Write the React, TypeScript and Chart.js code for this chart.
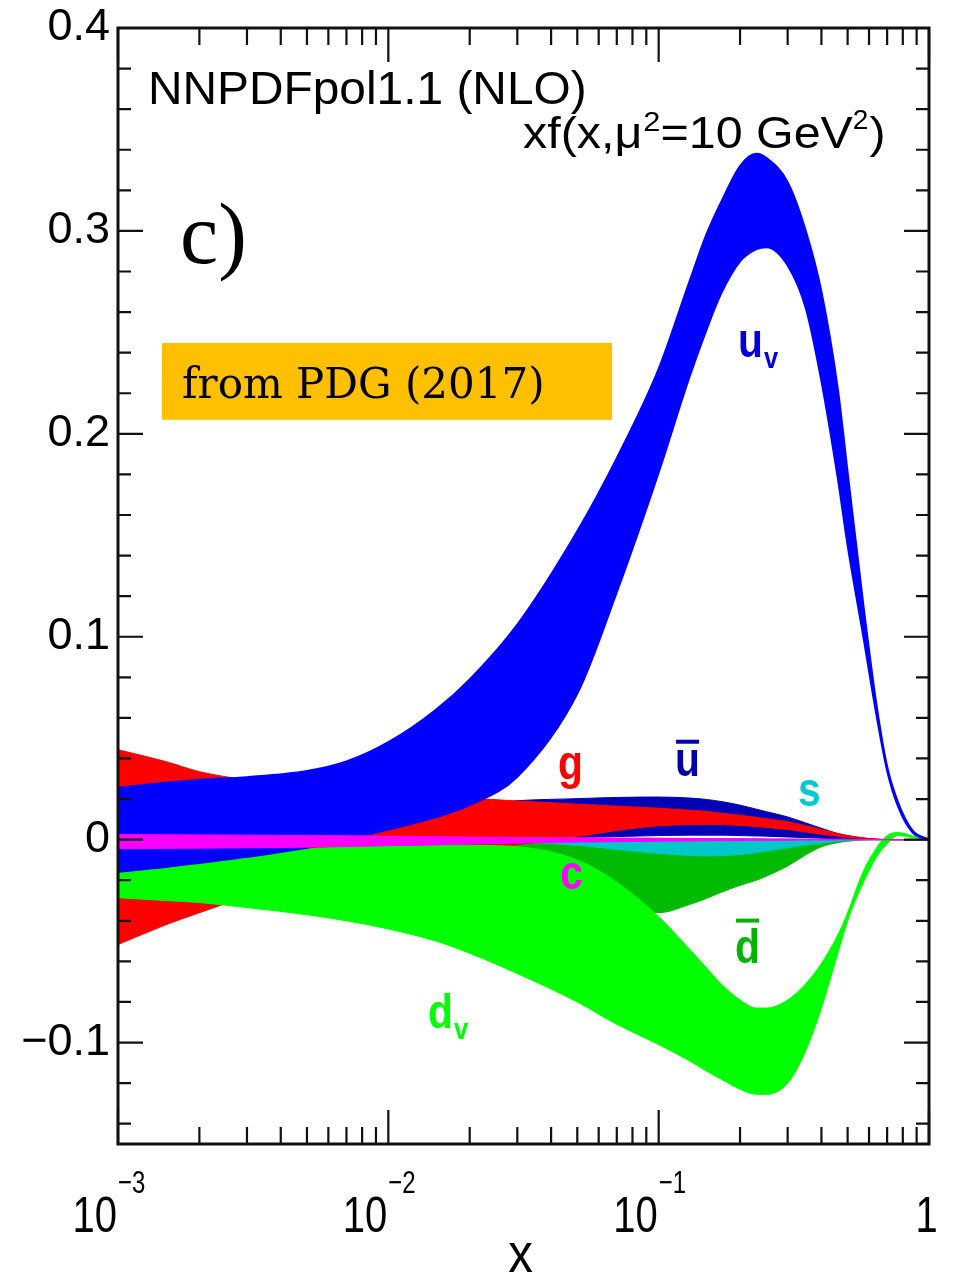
import React, { useEffect, useRef } from "react";
import { Chart, registerables } from "chart.js";

Chart.register(...registerables);

// ---- data (x grid and band edges) ----
const xValues = [
  0.001, 0.0015, 0.002, 0.003, 0.005, 0.007,
  0.01, 0.015, 0.02, 0.03, 0.05, 0.07,
  0.1, 0.13, 0.15, 0.17, 0.2, 0.23, 0.25,
  0.3, 0.35, 0.4, 0.46, 0.5, 0.57, 0.64,
  0.7, 0.77, 0.87, 1.0,
];

const uvUpper = [
  0.0256, 0.028, 0.0295, 0.0308, 0.0338, 0.0385,
  0.048, 0.064, 0.079, 0.106, 0.152, 0.188,
  0.232, 0.275, 0.298, 0.314, 0.332, 0.338, 0.336,
  0.324, 0.3, 0.27, 0.222, 0.181, 0.117, 0.066,
  0.036, 0.018, 0.0044, 0.0,
];
const uvLower = [
  -0.0158, -0.0135, -0.0115, -0.0085, -0.004, 0.0,
  0.005, 0.011, 0.017, 0.031, 0.072, 0.122,
  0.181, 0.228, 0.251, 0.269, 0.285, 0.291, 0.292,
  0.283, 0.262, 0.226, 0.178, 0.145, 0.101, 0.061,
  0.034, 0.016, 0.0035, 0.0,
];

const gUpper = [
  0.0443, 0.0385, 0.0335, 0.0295, 0.027, 0.025,
  0.0235, 0.0215, 0.0205, 0.019, 0.0175, 0.0165,
  0.0155, 0.0145, 0.014, 0.013, 0.012, 0.011, 0.0103,
  0.0088, 0.0068, 0.005, 0.003, 0.002, 0.0009, 0.0003,
  0.0, 0.0, 0.0, 0.0,
];
const gLower = [
  -0.0517, -0.042, -0.036, -0.028, -0.019, -0.014,
  -0.0095, -0.006, -0.0045, -0.0025, 0.0015, 0.0045,
  0.0068, 0.0074, 0.0075, 0.0074, 0.007, 0.0065, 0.006,
  0.005, 0.0038, 0.0027, 0.0017, 0.0012, 0.0005, 0.0002,
  0.0, 0.0, 0.0, 0.0,
];

const ubarUpper = [
  0.004, 0.0045, 0.005, 0.006, 0.008, 0.01,
  0.012, 0.015, 0.017, 0.0192, 0.0202, 0.0208,
  0.021, 0.0205, 0.0198, 0.0188, 0.017, 0.015, 0.0138,
  0.0112, 0.0082, 0.0056, 0.003, 0.002, 0.0008, 0.0002,
  0.0, 0.0, 0.0, 0.0,
];
const ubarLower = [
  -0.004, -0.004, -0.004, -0.0035, -0.003, -0.0025,
  -0.002, -0.0015, -0.001, 0.0, 0.001, 0.0015,
  0.002, 0.0022, 0.0022, 0.0022, 0.002, 0.0018, 0.0017,
  0.0013, 0.001, 0.0007, 0.0004, 0.0003, 0.0001, 0.0,
  0.0, 0.0, 0.0, 0.0,
];

const sUpper = [
  0.001, 0.001, 0.001, 0.001, 0.001, 0.001,
  0.001, 0.001, 0.001, 0.0008, 0.0006, 0.0005,
  0.0005, 0.0005, 0.0004, 0.0004, 0.0004, 0.0003, 0.0003,
  0.0002, 0.0002, 0.0001, 0.0001, 0.0, 0.0, 0.0,
  0.0, 0.0, 0.0, 0.0,
];
const sLower = [
  -0.002, -0.002, -0.002, -0.002, -0.002, -0.002,
  -0.002, -0.0018, -0.0015, -0.0014, -0.0028, -0.0048,
  -0.0068, -0.0078, -0.008, -0.0079, -0.0073, -0.0064, -0.0057,
  -0.004, -0.0027, -0.0017, -0.0008, -0.0004, -0.0001, 0.0,
  0.0, 0.0, 0.0, 0.0,
];

const dbarUpper = [
  0.001, 0.001, 0.001, 0.001, 0.001, 0.001,
  0.001, 0.001, 0.001, 0.0008, 0.0006, 0.0005,
  0.0005, 0.0004, 0.0004, 0.0003, 0.0003, 0.0002, 0.0002,
  0.0001, 0.0001, 0.0, 0.0, 0.0, 0.0, 0.0,
  0.0, 0.0, 0.0, 0.0,
];
const dbarLower = [
  -0.008, -0.008, -0.0085, -0.009, -0.01, -0.011,
  -0.012, -0.014, -0.016, -0.02, -0.027, -0.032,
  -0.036, -0.032, -0.029, -0.026, -0.0225, -0.02, -0.018,
  -0.013, -0.0075, -0.0035, -0.0015, -0.0008, -0.0002, 0.0,
  0.0, 0.0, 0.0, 0.0,
];

const dvUpper = [
  -0.01, -0.009, -0.008, -0.0065, -0.0045, -0.0035,
  -0.0028, -0.0027, -0.0028, -0.0035, -0.01, -0.021,
  -0.038, -0.054, -0.063, -0.071, -0.079, -0.083, -0.083,
  -0.079, -0.071, -0.061, -0.047, -0.036, -0.016, -0.004,
  0.002, 0.0035, 0.0018, 0.0,
];
const dvLower = [
  -0.0286, -0.03, -0.031, -0.0335, -0.037, -0.04,
  -0.044, -0.05, -0.056, -0.066, -0.08, -0.091,
  -0.101, -0.109, -0.114, -0.118, -0.123, -0.1255, -0.1255,
  -0.12, -0.104, -0.083, -0.056, -0.04, -0.0215, -0.0085,
  -0.002, 0.002, 0.001, 0.0,
];

const cUpper = [
  0.0025, 0.0024, 0.0023, 0.0022, 0.002, 0.0019,
  0.0017, 0.0015, 0.0013, 0.0011, 0.0009, 0.0008,
  0.0007, 0.0006, 0.0005, 0.0005, 0.0004, 0.0004, 0.0003,
  0.0003, 0.0002, 0.0002, 0.0001, 0.0001, 0.0, 0.0,
  0.0, 0.0, 0.0, 0.0,
];
const cLower = [
  -0.0044, -0.0043, -0.0042, -0.004, -0.0037, -0.0034,
  -0.003, -0.0026, -0.0022, -0.0017, -0.0012, -0.001,
  -0.0008, -0.0007, -0.0006, -0.0005, -0.0005, -0.0004, -0.0004,
  -0.0003, -0.0002, -0.0002, -0.0001, -0.0001, 0.0, 0.0,
  0.0, 0.0, 0.0, 0.0,
];

// ---- ticks ----
const yMajorTicks = [-0.1, 0, 0.1, 0.2, 0.3, 0.4];
const yMinorTicks = [-0.14, -0.12, -0.08, -0.06, -0.04, -0.02, 0.02, 0.04, 0.06, 0.08, 0.12, 0.14, 0.16, 0.18, 0.22, 0.24, 0.26, 0.28, 0.32, 0.34, 0.36, 0.38];
const xMajorTicks = [0.001, 0.01, 0.1, 1];
const xMajorLabels = [["10", "\u22123"], ["10", "\u22122"], ["10", "\u22121"], ["1", ""]];
const xMinorTicks = [
  0.002, 0.003, 0.004, 0.005, 0.006, 0.007, 0.008, 0.009,
  0.02, 0.03, 0.04, 0.05, 0.06, 0.07, 0.08, 0.09,
  0.2, 0.3, 0.4, 0.5, 0.6, 0.7, 0.8, 0.9,
];

// ---- bands, listed top-most first ----
const bands = [
  { name: "c", upper: cUpper, lower: cLower, color: "#ff00ff", bw: 1 },
  { name: "u_v", upper: uvUpper, lower: uvLower, color: "#0000ff", bw: 2 },
  { name: "d_v", upper: dvUpper, lower: dvLower, color: "#00ff00", bw: 1 },
  { name: "g", upper: gUpper, lower: gLower, color: "#ff0000", bw: 1 },
  { name: "ubar", upper: ubarUpper, lower: ubarLower, color: "#0000b4", bw: 1 },
  { name: "s", upper: sUpper, lower: sLower, color: "#00c8c8", bw: 1 },
  { name: "dbar", upper: dbarUpper, lower: dbarLower, color: "#00bb00", bw: 1 },
];

// ---- in-plot labels (data coordinates) ----
const curveLabels = [
  { text: "u", sub: "v", bar: false, x: 0.1966, y: 0.2379, color: "#0000dd" },
  { text: "g", sub: "", bar: false, x: 0.0424, y: 0.030, color: "#ff0000" },
  { text: "u", sub: "", bar: true, x: 0.115, y: 0.0315, color: "#0000aa" },
  { text: "s", sub: "", bar: false, x: 0.328, y: 0.0167, color: "#00c8d0" },
  { text: "c", sub: "", bar: false, x: 0.0432, y: -0.0241, color: "#ff00ff" },
  { text: "d", sub: "", bar: true, x: 0.1917, y: -0.0606, color: "#00b400" },
  { text: "d", sub: "v", bar: false, x: 0.01402, y: -0.0926, color: "#00ff00" },
];

const SANS = '"Liberation Sans", Arial, Helvetica, sans-serif';

function drawText(ctx: CanvasRenderingContext2D, str: string, x: number, y: number, font: string, color: string, sx = 1, align = "left") {
  ctx.save();
  ctx.font = font;
  ctx.fillStyle = color;
  ctx.textBaseline = "alphabetic";
  ctx.textAlign = "left";
  const w = ctx.measureText(str).width * sx;
  const x0 = align === "left" ? x : align === "right" ? x - w : x - w / 2;
  ctx.translate(x0, y);
  ctx.scale(sx, 1);
  ctx.fillText(str, 0, 0);
  ctx.restore();
  return w;
}

const decorPlugin = {
  id: "decor",
  afterDraw(chart: any) {
    const { ctx, chartArea: a, scales } = chart;
    const xs = scales.x;
    const ys = scales.y;
    ctx.save();

    // inward ticks on all four sides
    ctx.strokeStyle = "#111";
    ctx.lineWidth = 2.2;
    ctx.beginPath();
    const yTick = (v: number, len: number) => {
      const p = ys.getPixelForValue(v);
      ctx.moveTo(a.left, p); ctx.lineTo(a.left + len, p);
      ctx.moveTo(a.right, p); ctx.lineTo(a.right - len, p);
    };
    const xTick = (v: number, len: number) => {
      const p = xs.getPixelForValue(v);
      ctx.moveTo(p, a.bottom); ctx.lineTo(p, a.bottom - len);
      ctx.moveTo(p, a.top); ctx.lineTo(p, a.top + len);
    };
    yMajorTicks.forEach((v) => yTick(v, 25));
    yMinorTicks.forEach((v) => yTick(v, 13));
    xMajorTicks.forEach((v) => xTick(v, 34));
    xMinorTicks.forEach((v) => xTick(v, 17));
    ctx.stroke();

    // frame
    ctx.lineWidth = 3;
    ctx.strokeRect(a.left, a.top, a.right - a.left, a.bottom - a.top);

    // x tick labels with exponents
    xMajorTicks.forEach((v, i) => {
      const p = xs.getPixelForValue(v);
      const [base, exp] = xMajorLabels[i];
      if (exp) {
        drawText(ctx, base, p - 1, a.bottom + 88, `50px ${SANS}`, "#000", 0.8, "right");
        drawText(ctx, exp, p, a.bottom + 49, `32px ${SANS}`, "#000", 0.75, "left");
      } else {
        drawText(ctx, base, p - 2.5, a.bottom + 88, `50px ${SANS}`, "#000", 0.8, "center");
      }
    });
    // x axis title
    drawText(ctx, "x", (a.left + a.right) / 2 - 3, a.bottom + 128, `56px ${SANS}`, "#000", 0.88, "center");

    // header texts
    drawText(ctx, "NNPDFpol1.1 (NLO)", xs.getPixelForValue(0.001291), ys.getPixelForValue(0.3626), `46px ${SANS}`, "#000", 1.04);
    let tx = xs.getPixelForValue(0.0315);
    const ty = ys.getPixelForValue(0.3409);
    tx += drawText(ctx, "xf(x,\u03bc", tx, ty, `44px ${SANS}`, "#000", 1.1);
    tx += drawText(ctx, "2", tx + 1, ty - 17, `28px ${SANS}`, "#000", 1.1) + 1;
    tx += drawText(ctx, "=10 GeV", tx, ty, `44px ${SANS}`, "#000", 1.1);
    tx += drawText(ctx, "2", tx, ty - 19, `28px ${SANS}`, "#000", 1.0);
    drawText(ctx, ")", tx + 1, ty, `44px ${SANS}`, "#000", 1.1);

    drawText(ctx, "c)", xs.getPixelForValue(0.001696), ys.getPixelForValue(0.2842), '86px "Liberation Serif", "Times New Roman", serif', "#000", 1.0);

    // orange note box
    const bx0 = xs.getPixelForValue(0.001455);
    const bx1 = xs.getPixelForValue(0.06727);
    const by0 = ys.getPixelForValue(0.2448);
    const by1 = ys.getPixelForValue(0.2069);
    ctx.fillStyle = "#ffc000";
    ctx.fillRect(bx0, by0, bx1 - bx0, by1 - by0);
    drawText(ctx, "from PDG (2017)", xs.getPixelForValue(0.001725), ys.getPixelForValue(0.2177), '42px "DejaVu Serif", serif', "#000", 1.0);

    // curve labels
    curveLabels.forEach((l) => {
      const px = xs.getPixelForValue(l.x);
      const py = ys.getPixelForValue(l.y);
      const w = drawText(ctx, l.text, px, py, `bold 48px ${SANS}`, l.color, 0.85);
      if (l.sub) drawText(ctx, l.sub, px + w + 1, py + 11, `bold 30px ${SANS}`, l.color, 0.85);
      if (l.bar) {
        const h = l.text === "d" ? 42 : 34;
        ctx.fillStyle = l.color;
        ctx.fillRect(px + 1, py - h - 2, w - 2, 4);
      }
    });

    ctx.restore();
  },
};

export default function App() {
  const ref = useRef<HTMLCanvasElement>(null);

  useEffect(() => {
    const datasets: any[] = [];
    bands.forEach((b) => {
      datasets.push({
        label: b.name + " upper",
        data: xValues.map((x, i) => ({ x, y: b.upper[i] })),
        borderColor: b.color,
        backgroundColor: b.color,
        borderWidth: b.bw,
        pointRadius: 0,
        fill: "+1",
        cubicInterpolationMode: "monotone",
      });
      datasets.push({
        label: b.name + " lower",
        data: xValues.map((x, i) => ({ x, y: b.lower[i] })),
        borderColor: b.color,
        backgroundColor: b.color,
        borderWidth: b.bw,
        pointRadius: 0,
        fill: false,
        cubicInterpolationMode: "monotone",
      });
    });

    const chart = new Chart(ref.current as HTMLCanvasElement, {
      type: "line",
      data: { datasets },
      options: {
        responsive: false,
        maintainAspectRatio: false,
        devicePixelRatio: 1,
        animation: false,
        events: [],
        layout: { padding: { top: 28, right: 24, left: 0, bottom: 0 } },
        plugins: { legend: { display: false }, tooltip: { enabled: false } },
        scales: {
          x: {
            type: "logarithmic",
            min: 0.001,
            max: 1,
            grid: { display: false },
            border: { display: false },
            ticks: { display: false },
            afterBuildTicks: (s: any) => { s.ticks = xMajorTicks.map((v) => ({ value: v })); },
            afterFit: (s: any) => { s.height = 135; s.paddingLeft = 0; s.paddingRight = 0; },
          },
          y: {
            type: "linear",
            min: -0.15,
            max: 0.4,
            grid: { display: false, drawTicks: false },
            border: { display: false },
            afterBuildTicks: (s: any) => { s.ticks = yMajorTicks.map((v) => ({ value: v })); },
            afterFit: (s: any) => { s.width = 118; s.paddingTop = 0; s.paddingBottom = 0; },
            ticks: {
              padding: 8,
              color: "#000",
              autoSkip: false,
              font: { family: SANS, size: 45 },
              callback: (v: any) => {
                const n = Number(v);
                if (Math.abs(n) < 1e-9) return "0";
                return n < 0 ? "\u2212" + Math.abs(n).toFixed(1) : n.toFixed(1);
              },
            },
          },
        },
      },
      plugins: [decorPlugin],
    } as any);

    return () => chart.destroy();
  }, []);

  return (
    <div style={{ position: "absolute", left: 0, top: 0, width: 953, height: 1279, background: "#fff" }}>
      <canvas ref={ref} width={953} height={1279} style={{ display: "block", width: 953, height: 1279 }} />
    </div>
  );
}
